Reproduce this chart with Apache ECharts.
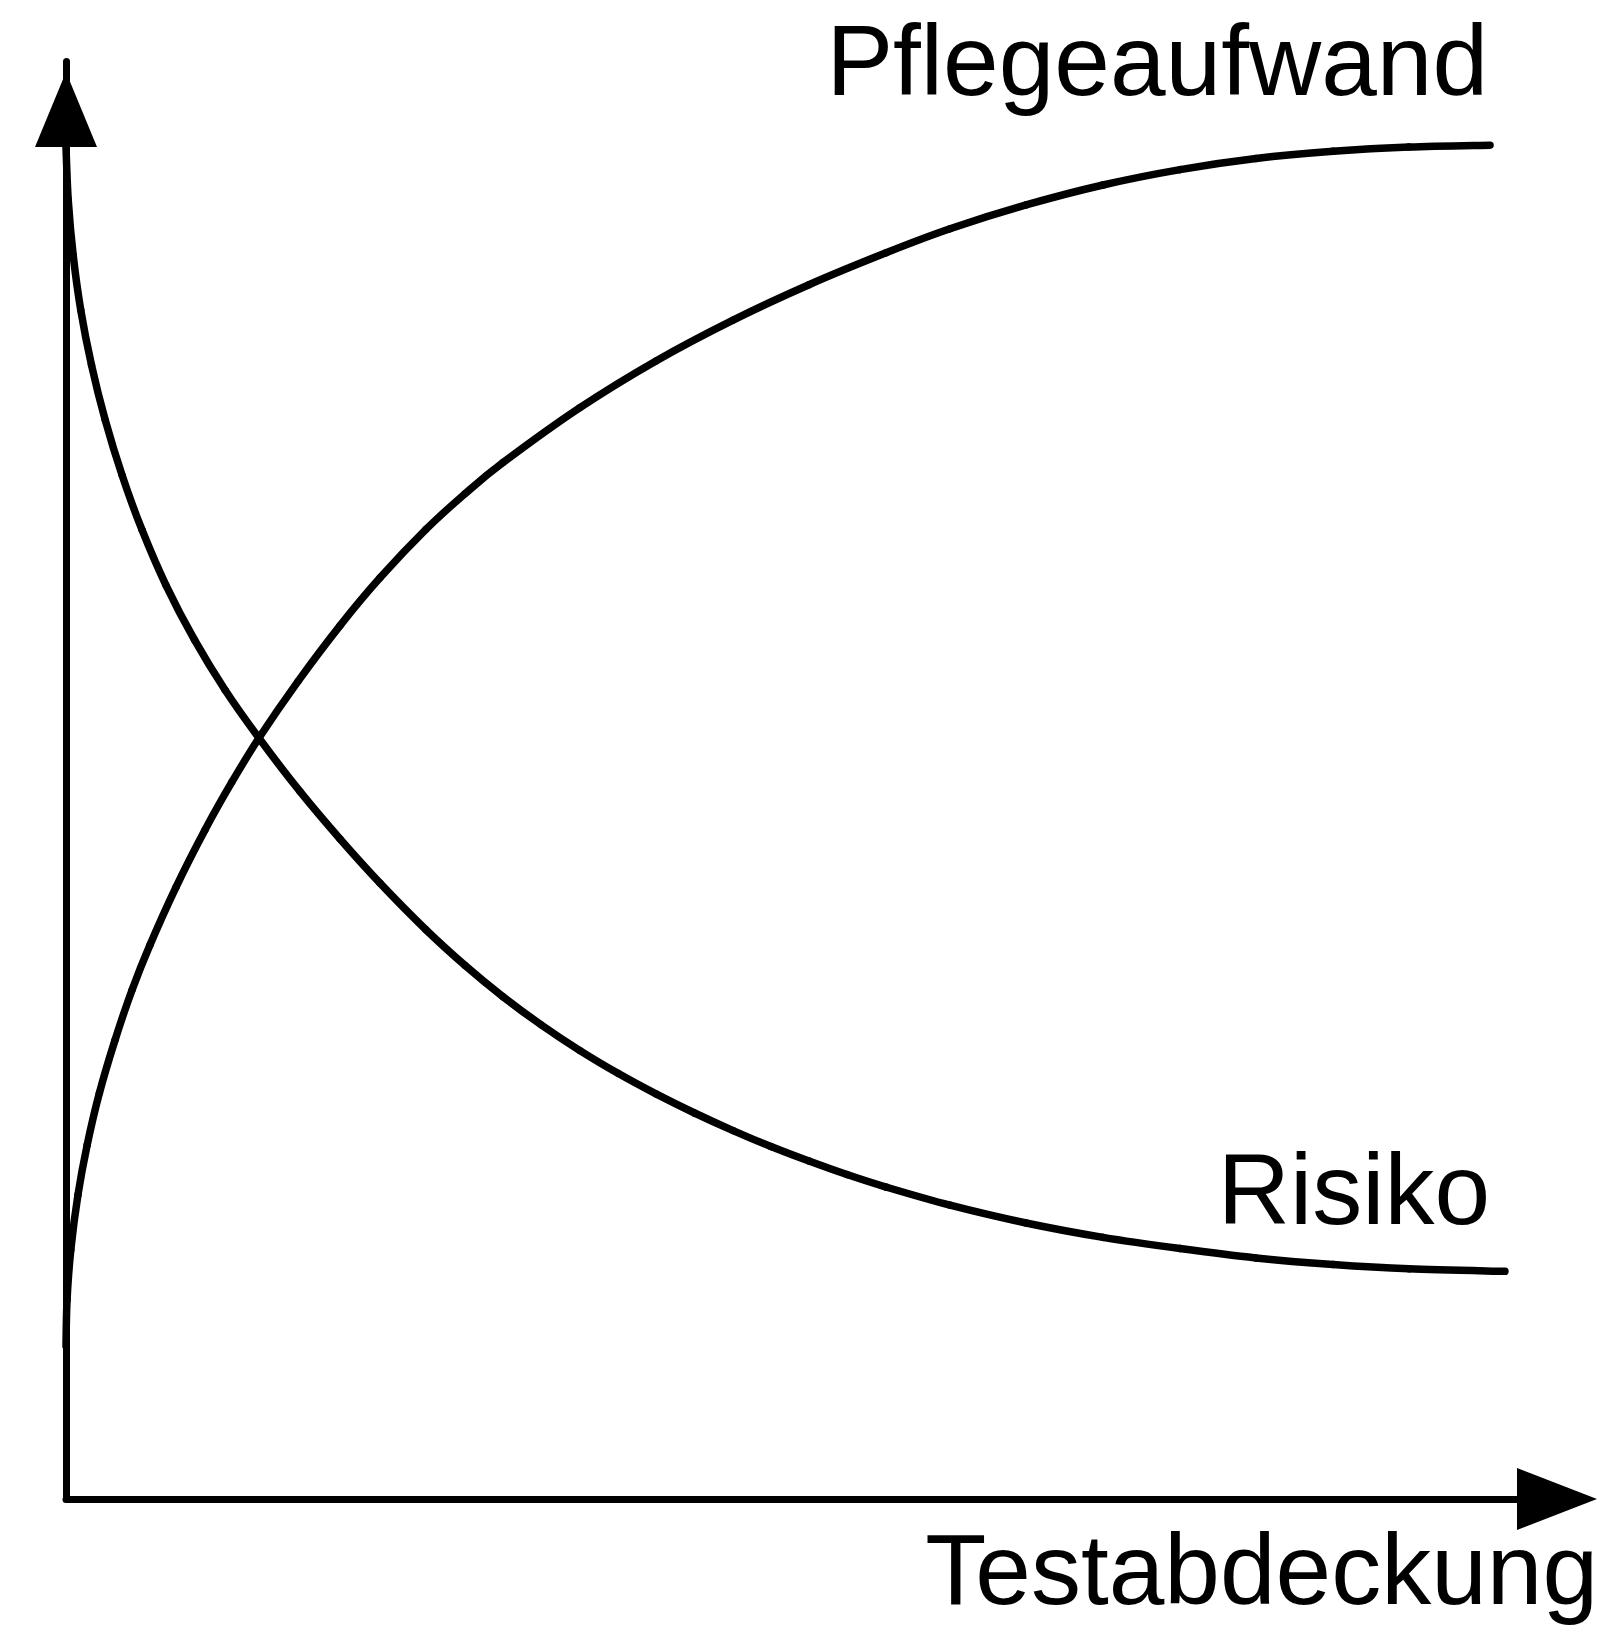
<!DOCTYPE html>
<html>
<head>
<meta charset="utf-8">
<title>Testabdeckung: Pflegeaufwand und Risiko</title>
<script src="https://cdn.jsdelivr.net/npm/echarts@6/dist/echarts.min.js"></script>
<style>
  html, body { margin: 0; padding: 0; background: #fff; }
  #chart { width: 1597px; height: 1635px; }
</style>
</head>
<body>
<div id="chart"></div>
<script>
// Test coverage (x, 0–100) and the two qualitative curves (y, 0–100)
const pflegeX = [0, 0.07, 0.32, 0.8, 1.42, 2.24, 3.29, 4.43, 5.63, 7.38, 9.32, 11.13, 12.94, 15.56, 18.38, 21.06, 24.14, 26.76, 29.31, 34.47, 39.57, 44.74, 49.83, 55.0, 59.29, 64.39, 69.55, 74.72, 79.81, 84.98, 90.07, 95.51];
const pflegeY = [10.64, 13.84, 17.32, 21.15, 24.63, 28.24, 31.93, 35.41, 38.54, 42.57, 46.54, 49.88, 52.94, 56.88, 60.76, 64.08, 67.45, 69.93, 72.1, 75.92, 79.17, 82.01, 84.47, 86.69, 88.36, 90.02, 91.41, 92.48, 93.25, 93.75, 94.05, 94.18];

const risikoX = [0, 0.15, 0.48, 0.99, 1.71, 2.63, 3.76, 5.1, 6.7, 8.62, 10.67, 12.94, 15.69, 18.38, 21.06, 24.14, 26.76, 29.31, 31.86, 34.47, 37.02, 39.57, 42.12, 44.74, 47.28, 49.83, 52.38, 55.0, 59.29, 64.39, 69.55, 74.72, 79.81, 84.98, 90.07, 96.51];
const risikoY = [94.05, 90.37, 86.54, 82.71, 78.89, 75.06, 71.23, 67.41, 63.58, 59.76, 56.28, 52.94, 49.22, 45.91, 42.84, 39.6, 37.12, 34.94, 32.99, 31.19, 29.61, 28.18, 26.87, 25.63, 24.52, 23.51, 22.57, 21.7, 20.44, 19.2, 18.2, 17.42, 16.77, 16.31, 16.01, 15.84];

const seriesNames = ['Pflegeaufwand', 'Risiko'];
const axisTitle = 'Testabdeckung';

const pair = (xs, ys) => xs.map((x, i) => [x, ys[i]]);

const FONT = '100px "Liberation Sans", Arial, Helvetica, sans-serif';
const STROKE = { stroke: '#000', fill: null, lineWidth: 7.5, lineCap: 'round', lineJoin: 'round' };

// Each data item draws the spline segment to the next point (Catmull-Rom tangents),
// positioned through the cartesian axes via api.coord.
function splineSegments(xs, ys) {
  const n = xs.length;
  return function (params, api) {
    const i = params.dataIndex;
    if (i >= n - 1) return null;
    const p = k => {
      const j = Math.max(0, Math.min(n - 1, k));
      return api.coord([xs[j], ys[j]]);
    };
    const p0 = p(i - 1), p1 = p(i), p2 = p(i + 1), p3 = p(i + 2);
    const t = 1 / 6;
    return {
      type: 'bezierCurve',
      shape: {
        x1: p1[0], y1: p1[1], x2: p2[0], y2: p2[1],
        cpx1: p1[0] + (p2[0] - p0[0]) * t, cpy1: p1[1] + (p2[1] - p0[1]) * t,
        cpx2: p2[0] - (p3[0] - p1[0]) * t, cpy2: p2[1] - (p3[1] - p1[1]) * t
      },
      style: STROKE,
      silent: true
    };
  };
}

function curve(name, xs, ys) {
  return {
    name: name, type: 'custom', data: pair(xs, ys),
    encode: { x: 0, y: 1 }, clip: false,
    renderItem: splineSegments(xs, ys)
  };
}

const chart = echarts.init(document.getElementById('chart'), null, { renderer: 'canvas' });

chart.setOption({
  animation: false,
  backgroundColor: '#fff',
  grid: { left: 66, right: 40, top: 61.5, bottom: 136, containLabel: false },
  xAxis: {
    type: 'value', min: 0, max: 100,
    axisLine: {
      show: true, onZero: false,
      symbol: ['none', 'triangle'], symbolSize: [62, 80], symbolOffset: [0, 0],
      lineStyle: { color: '#000', width: 7, cap: 'round' }
    },
    axisTick: { show: false }, axisLabel: { show: false }, splitLine: { show: false }
  },
  yAxis: {
    type: 'value', min: 0, max: 100,
    axisLine: {
      show: true, onZero: false,
      symbol: ['none', 'triangle'], symbolSize: [62, 75], symbolOffset: [0, -48],
      lineStyle: { color: '#000', width: 7, cap: 'round' }
    },
    axisTick: { show: false }, axisLabel: { show: false }, splitLine: { show: false }
  },
  series: [
    curve(seriesNames[0], pflegeX, pflegeY),
    curve(seriesNames[1], risikoX, risikoY)
  ],
  graphic: [
    { type: 'text', x: 1488, y: 67, style: { text: seriesNames[0], font: FONT, fill: '#000', textAlign: 'right', textVerticalAlign: 'middle' } },
    { type: 'text', x: 1490, y: 1196, style: { text: seriesNames[1], font: FONT, fill: '#000', textAlign: 'right', textVerticalAlign: 'middle' } },
    { type: 'text', x: 1598, y: 1576, style: { text: axisTitle, font: FONT, fill: '#000', textAlign: 'right', textVerticalAlign: 'middle' } }
  ]
});
</script>
</body>
</html>
